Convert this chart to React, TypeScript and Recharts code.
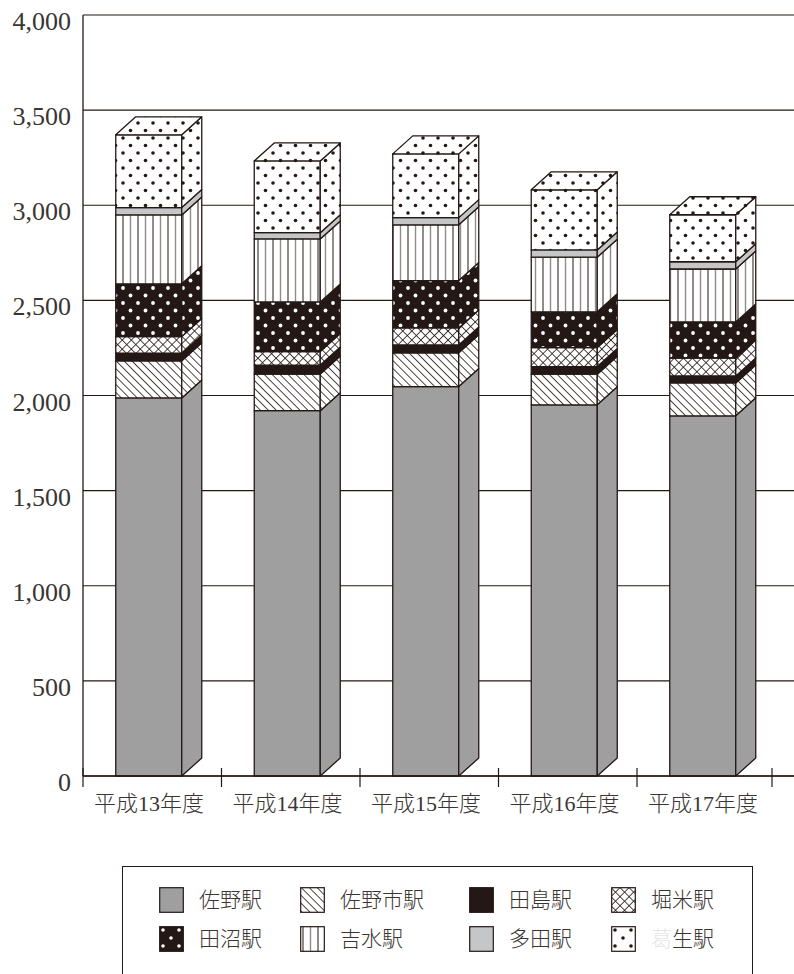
import { BarChart, Bar, XAxis, YAxis, CartesianGrid } from 'recharts';

const YEARS = ['平成13年度', '平成14年度', '平成15年度', '平成16年度', '平成17年度'];
const Y_TICKS = [0, 500, 1000, 1500, 2000, 2500, 3000, 3500, 4000];

const SANO = [1987, 1920, 2047, 1951, 1893];
const SANOSHI = [195, 193, 177, 161, 173];
const TAJIMA = [40, 47, 42, 40, 37];
const HORIGOME = [88, 71, 89, 100, 94];
const TANUMA = [277, 261, 249, 188, 190];
const YOSHIMIZU = [362, 331, 293, 287, 278];
const TADA = [39, 33, 38, 38, 38];
const KUZUU = [382, 377, 335, 316, 247];

const INK = '#231815';
const TEXT = '#3a3532';
const FONT = "'Liberation Serif','Noto Sans CJK JP',serif";

const SERIES = [
  { key: '佐野駅', values: SANO, fill: '#9f9f9f' },
  { key: '佐野市駅', values: SANOSHI, fill: 'url(#hatch)' },
  { key: '田島駅', values: TAJIMA, fill: INK },
  { key: '堀米駅', values: HORIGOME, fill: 'url(#cross)' },
  { key: '田沼駅', values: TANUMA, fill: 'url(#darkdots)' },
  { key: '吉水駅', values: YOSHIMIZU, fill: 'url(#stripes)' },
  { key: '多田駅', values: TADA, fill: '#c4c6c8' },
  { key: '葛生駅', values: KUZUU, fill: 'url(#dots)' },
];

const data = YEARS.map((year, i) => {
  const row: Record<string, string | number> = { year };
  SERIES.forEach((s) => {
    row[s.key] = s.values[i];
  });
  return row;
});

const DX = 20;
const DY = 18;
const BAND = 138.5;
const SHIFT = 3.25; // bars sit a little left of the band centre

// front face + side face, the top series also gets the lid
const makeBox = (isTop: boolean) => (props: any) => {
  const { y, width, height, fill } = props;
  const x = props.x - SHIFT;
  const r = x + width;
  const b = y + height;
  return (
    <g stroke={INK} strokeWidth={1.3} strokeLinejoin="round">
      <rect x={x} y={y} width={width} height={height} fill={fill} />
      <polygon points={`${r},${y} ${r + DX},${y - DY} ${r + DX},${b - DY} ${r},${b}`} fill={fill} />
      {isTop && (
        <polygon points={`${x},${y} ${x + DX},${y - DY} ${r + DX},${y - DY} ${r},${y}`} fill={fill} />
      )}
    </g>
  );
};

const YTick = ({ x, y, payload }: any) => (
  <text x={x + 7} y={y + 15} textAnchor="end" fontFamily={FONT} fontSize={26} fill={TEXT}>
    {payload.value.toLocaleString('en-US')}
  </text>
);

const XTick = ({ x, y, payload, index }: any) => {
  const axisY = y - 8;
  const left = x - BAND / 2;
  return (
    <g>
      <line x1={left} x2={left} y1={axisY - 8} y2={axisY + 11} stroke={INK} strokeWidth={1.2} />
      {index === YEARS.length - 1 && (
        <line x1={left + BAND - 3.5} x2={left + BAND - 3.5} y1={axisY - 8} y2={axisY + 11} stroke={INK} strokeWidth={1.2} />
      )}
      <text x={x - SHIFT} y={axisY + 35} textAnchor="middle" fontFamily={FONT} fontWeight={300} fontSize={22} fill={TEXT}>
        {payload.value}
      </text>
    </g>
  );
};

const PatternDefs = () => (
  <>
    <pattern id="hatch" width="5.6" height="5.6" patternUnits="userSpaceOnUse" patternTransform="rotate(-45)">
      <rect width="5.6" height="5.6" fill="#fff" />
      <line x1="0" y1="0" x2="0" y2="5.6" stroke={INK} strokeWidth="1.6" />
    </pattern>
    <pattern id="cross" width="6.4" height="6.4" patternUnits="userSpaceOnUse" patternTransform="rotate(45)">
      <rect width="6.4" height="6.4" fill="#fff" />
      <line x1="0" y1="0" x2="0" y2="6.4" stroke={INK} strokeWidth="1.6" />
      <line x1="0" y1="0" x2="6.4" y2="0" stroke={INK} strokeWidth="1.6" />
    </pattern>
    <pattern id="dots" width="15" height="15" patternUnits="userSpaceOnUse">
      <rect width="15" height="15" fill="#fff" />
      <circle cx="3" cy="3" r="1.8" fill={INK} />
      <circle cx="10.5" cy="10.5" r="1.8" fill={INK} />
    </pattern>
    <pattern id="darkdots" width="15" height="15" patternUnits="userSpaceOnUse">
      <rect width="15" height="15" fill={INK} />
      <circle cx="3" cy="3" r="1.9" fill="#fff" />
      <circle cx="10.5" cy="10.5" r="1.9" fill="#fff" />
    </pattern>
    <pattern id="stripes" width="15" height="15" patternUnits="userSpaceOnUse">
      <rect width="15" height="15" fill="#fff" />
      <line x1="3" y1="0" x2="3" y2="15" stroke={INK} strokeWidth="1" />
      <line x1="10.5" y1="0" x2="10.5" y2="15" stroke="#8f8c8a" strokeWidth="1.4" />
    </pattern>
    <pattern id="legendDots" width="16" height="16" patternUnits="userSpaceOnUse">
      <rect width="16" height="16" fill="#fff" />
      <circle cx="4" cy="4" r="1.8" fill={INK} />
      <circle cx="12" cy="12" r="1.8" fill={INK} />
    </pattern>
    <pattern id="legendDark" width="16" height="16" patternUnits="userSpaceOnUse">
      <rect width="16" height="16" fill={INK} />
      <circle cx="4" cy="4" r="1.8" fill="#fff" />
      <circle cx="12" cy="12" r="1.8" fill="#fff" />
    </pattern>
  </>
);

const LEGEND_X = [36, 177, 346, 488];
const LEGEND_Y = [20, 59];

const LegendBox = () => (
  <div
    style={{
      position: 'absolute',
      left: 122,
      top: 866,
      width: 631,
      height: 108,
      boxSizing: 'border-box',
      borderTop: `1.3px solid ${INK}`,
      borderLeft: `1.3px solid ${INK}`,
      borderRight: `1.3px solid ${INK}`,
    }}
  >
    {SERIES.map((s, i) => {
      const col = i % 4;
      const row = Math.floor(i / 4);
      const fill = s.fill === 'url(#dots)' ? 'url(#legendDots)' : s.fill === 'url(#darkdots)' ? 'url(#legendDark)' : s.fill;
      return (
        <div key={s.key} style={{ position: 'absolute', left: LEGEND_X[col], top: LEGEND_Y[row], display: 'flex', alignItems: 'center', whiteSpace: 'nowrap' }}>
          <svg width={25} height={26} style={{ display: 'block' }}>
            <rect x={0.7} y={0.7} width={23.6} height={24.6} fill={fill} stroke={INK} strokeWidth={1.2} />
          </svg>
          <span style={{ marginLeft: 15, fontFamily: FONT, fontWeight: 300, fontSize: 21, lineHeight: '26px', color: TEXT }}>
            {s.key === '葛生駅' ? (
              <>
                <span style={{ color: '#e6e6e6' }}>葛</span>生駅
              </>
            ) : (
              s.key
            )}
          </span>
        </div>
      );
    })}
  </div>
);

export default function App() {
  return (
    <div style={{ position: 'absolute', left: 0, top: 0, width: 794, height: 974, overflow: 'hidden', background: '#fff' }}>
      <BarChart
        width={794}
        height={974}
        data={data}
        barSize={66}
        margin={{ top: 15, right: 0, bottom: 0, left: 0 }}
      >
        <defs>
          <PatternDefs />
        </defs>
        <CartesianGrid horizontal vertical={false} stroke={INK} strokeWidth={1.2} />
        <XAxis
          dataKey="year"
          height={198}
          padding={{ left: 0, right: 18.5 }}
          tickLine={false}
          axisLine={{ stroke: INK, strokeWidth: 1.3 }}
          tick={<XTick />}
          interval={0}
        />
        <YAxis
          width={83}
          domain={[0, 4000]}
          ticks={Y_TICKS}
          interval={0}
          tickLine={false}
          tickMargin={13}
          axisLine={{ stroke: INK, strokeWidth: 1.3 }}
          tick={<YTick />}
        />
        {SERIES.map((s, i) => (
          <Bar
            key={s.key}
            dataKey={s.key}
            stackId="a"
            fill={s.fill}
            isAnimationActive={false}
            shape={makeBox(i === SERIES.length - 1)}
          />
        ))}
      </BarChart>
      <LegendBox />
    </div>
  );
}
